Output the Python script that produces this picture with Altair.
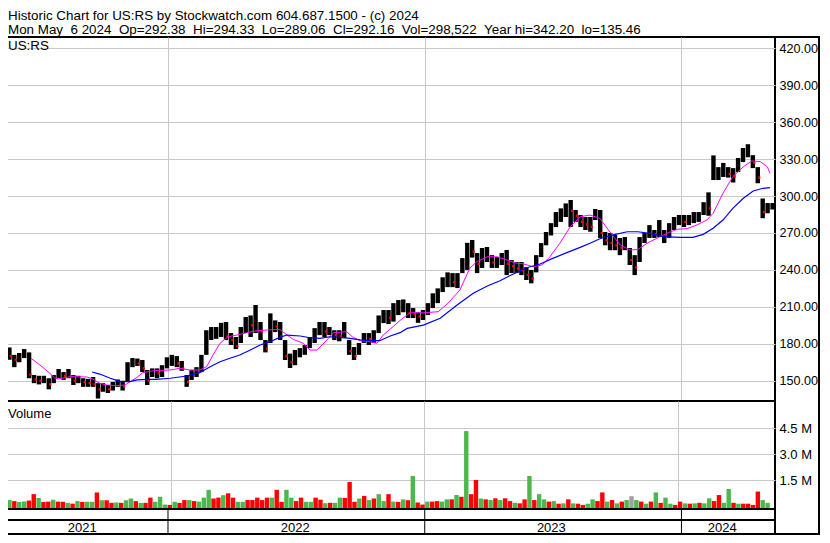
import altair as alt
import pandas as pd

# ---------------- data ----------------
START = "2021-05-10"
END = "2024-05-13"
FIRST_BAR = "2021-05-13 12:00"   # weekly bars, centred mid-week

HIGH = [181.7, 177, 171, 172.5, 175.7, 173, 154.6, 154, 154, 152,
        154.6, 159.5, 157, 159.5, 154.6, 154, 152, 151.5, 153, 148,
        148, 146.5, 149, 151, 150, 165, 168.4, 168, 166.8, 158.7,
        160, 160, 162.6, 169, 171, 170, 166, 154.6, 158.7, 161,
        171, 191, 193.6, 193.6, 197, 197.7, 188.7, 185.5, 193.6, 201.7,
        203, 211.5, 197.7, 183, 204.7, 199, 197.7, 183, 172, 175,
        176.5, 179, 185.5, 192.7, 197.7, 197.7, 193.6, 191, 191, 197.7,
        183, 177.4, 180.6, 188.7, 188.7, 191, 203, 207.4, 207.4, 213,
        215.5, 216, 213, 209, 205.6, 207.4, 213, 221, 225, 234,
        238, 237.4, 237.4, 249.6, 262, 264.3, 253.7, 257.8, 258.6, 252,
        250.4, 253.7, 256.2, 248, 246.4, 246.4, 242.3, 240, 252, 261.8,
        270.8, 278, 287, 290, 294, 296.8, 288.7, 284.6, 283, 283,
        289.5, 288.7, 270.8, 270, 268.4, 265.9, 266.7, 257.8, 252, 266.7,
        270, 276.4, 272.4, 280.5, 272.4, 278, 283, 284.6, 284.6, 284.6,
        287, 287, 295, 303, 333, 323.5, 326.9, 323.5, 322.7, 330.9,
        339, 342.1, 333.2, 323.5, 298, 294.3, 294.33]
LOW = [172, 167, 161, 165, 168.4, 152, 148, 147, 148, 143,
       148, 152, 150.6, 152, 146.5, 148, 145, 145, 145, 135.5,
       141, 140, 142, 145, 142, 149, 161, 162, 157, 146.5,
       153, 152, 153, 160, 162, 161, 158, 145, 150.6, 153,
       157, 171, 183, 184, 185.5, 183, 179, 175.7, 180.6, 188.7,
       185.5, 188.7, 183, 173, 180.6, 189.5, 183, 166.8, 160.3, 162.6,
       169, 171, 176.5, 180.6, 187, 185.5, 187, 183, 182, 184.6,
       171, 166.8, 171, 180.6, 179, 180.6, 188.7, 196.8, 196, 198,
       203.3, 205.6, 200.9, 200.9, 197, 199.3, 203.3, 209, 213, 222,
       226, 226, 225.3, 237.4, 240, 250, 237.4, 241.6, 246.4, 241.6,
       241.6, 244, 235.8, 237.4, 237.4, 235.8, 231.8, 229.1, 238, 250.4,
       260, 268, 274.8, 279, 283, 274.8, 279, 274.8, 272.4, 271,
       280.5, 266, 260, 256, 256, 252, 256, 244, 235.8, 246.4,
       261.8, 266, 266, 266.7, 261.8, 266, 272.4, 276.4, 274.8, 276.4,
       278, 279, 284.6, 284, 313, 313, 315.5, 315, 311, 319.5,
       327.6, 331.5, 322.7, 310.4, 282, 286, 289.06]
CLOSE = [175, 170, 167, 168, 173, 155, 151, 150, 152, 147,
         151, 156, 154, 155, 150, 151, 149, 148, 147, 143,
         145, 143, 146, 149, 145, 163, 165, 164, 160, 150,
         157, 156, 159, 165, 166, 164, 160, 149, 155, 158,
         168, 186, 188, 190, 193, 186, 183, 178, 190, 197,
         195, 196, 190, 176, 200, 194, 186, 170, 165, 170,
         174, 176, 182, 188, 193, 190, 190, 187, 186, 190,
         174, 170, 176, 185, 184, 186, 199, 203, 201, 210,
         210, 210, 205, 204, 202, 203, 210, 215, 220, 230,
         232, 230, 235, 245, 258, 255, 245, 252, 252, 246,
         247, 248, 245, 243, 241, 240, 236, 233, 248, 258,
         266, 275, 282, 285, 290, 288, 284, 279, 277, 275,
         286, 270, 264, 262, 260, 258, 262, 248, 242, 262,
         266, 272, 269, 272, 268, 273, 278, 280, 279, 280,
         283, 284, 292, 290, 318, 318, 320, 318, 316, 326,
         334, 338, 327, 315, 287, 290, 292.16]
# weekly volume, millions of shares
VOL_M = [0.36, 0.30, 0.25, 0.28, 0.33, 0.70, 0.48, 0.25, 0.27, 0.38,
         0.27, 0.26, 0.20, 0.15, 0.30, 0.25, 0.26, 0.26, 0.80, 0.35,
         0.35, 0.20, 0.22, 0.20, 0.35, 0.45, 0.30, 0.20, 0.20, 0.50,
         0.26, 0.55, 0.10, 0.08, 0.26, 0.20, 0.36, 0.36, 0.30, 0.27,
         0.50, 0.95, 0.45, 0.50, 0.64, 0.75, 0.50, 0.26, 0.26, 0.36,
         0.36, 0.50, 0.36, 0.50, 0.50, 0.95, 0.26, 0.95, 0.50, 0.30,
         0.50, 0.26, 0.26, 0.50, 0.38, 0.18, 0.20, 0.20, 0.50, 0.48,
         1.40, 0.26, 0.45, 0.60, 0.36, 0.45, 0.70, 0.30, 0.70, 0.27,
         0.25, 0.40, 0.35, 1.75, 0.22, 0.10, 0.27, 0.27, 0.30, 0.27,
         0.40, 0.40, 0.65, 0.55, 4.34, 0.70, 1.52, 0.45, 0.40, 0.36,
         0.46, 0.36, 0.46, 0.30, 0.20, 0.17, 0.40, 1.75, 0.36, 0.70,
         0.40, 0.27, 0.30, 0.15, 0.17, 0.40, 0.17, 0.15, 0.08, 0.15,
         0.40, 0.30, 0.80, 0.27, 0.36, 0.17, 0.27, 0.36, 0.58, 0.36,
         0.27, 0.15, 0.27, 0.80, 0.20, 0.50, 0.15, 0.08, 0.27, 0.17,
         0.15, 0.17, 0.20, 0.17, 0.46, 0.30, 0.65, 0.20, 1.00, 0.20,
         0.15, 0.15, 0.15, 0.08, 0.85, 0.36, 0.20]
# g = up, r = down, n = unchanged
VOL_DIR = ("grggrrgrrg" "rrgrgrggrg" "rrgrggrgrr" "gggrgrrgrg" "ggrrgrrggr"
           "rrrrgrrggr" "rggrrgrggr" "rrgrgrggrg" "rgrgrrgrrg" "grgrgrrgrg"
           "rgrrgrrgrg" "grgrgrgrrg" "grrgrgrgng" "rgrgrggrrg" "rgrggrrggr"
           "grrrrgg")

# moving averages: days after START, value
MA30_DAYS = [41, 54, 68, 75, 80, 97, 121, 129, 139, 149, 163, 175, 182, 192, 200,
             215, 239, 253, 267, 281, 291, 300, 310, 321, 334, 348, 363, 377, 395,
             402, 414, 428, 438, 448, 462, 471, 490, 498, 509, 520, 533, 542, 556,
             566, 580, 599, 620, 634, 651, 665, 675, 690, 704, 718, 732, 741, 755,
             768, 779, 793, 808, 822, 836, 850, 864, 879, 893, 904, 917, 931, 945,
             960, 974, 988, 1002, 1011, 1025, 1039, 1054, 1066, 1078, 1088, 1092]
MA30 = [168.2, 162.8, 156.0, 152.2, 151.3, 153.3, 153.0, 151.4, 147.9, 146.5, 146.0,
        146.5, 149.2, 152.7, 156.5, 158.1, 158.7, 160.0, 158.7, 158.7, 161.4, 170.9,
        180.4, 185.7, 187.1, 189.0, 190.6, 191.2, 191.7, 188.5, 183.6, 180.4, 174.9,
        174.9, 183.1, 189.0, 189.8, 185.7, 182.5, 182.0, 180.4, 187.1, 193.9, 199.0,
        205.2, 205.2, 206.0, 212.9, 223.7, 241.3, 246.7, 250.7, 250.7, 248.0, 245.4,
        245.0, 242.6, 244.0, 250.7, 261.6, 275.1, 283.2, 284.6, 281.9, 271.0, 260.2,
        256.2, 256.5, 261.6, 265.7, 269.7, 273.0, 273.5, 276.5, 280.5, 286.0, 302.2,
        315.7, 323.8, 328.5, 328.0, 323.8, 318.5]
MA90_DAYS = [128, 139, 154, 168, 182, 192, 206, 220, 239, 263, 281, 296, 310, 324,
             338, 353, 367, 381, 395, 405, 424, 438, 452, 466, 481, 495, 509, 523,
             537, 552, 566, 576, 599, 623, 647, 670, 690, 708, 727, 746, 765, 783,
             803, 822, 836, 850, 869, 889, 904, 921, 940, 964, 982, 997, 1011, 1025,
             1039, 1054, 1068, 1082, 1092]
MA90 = [157.1, 155.4, 152.0, 149.2, 149.2, 150.6, 151.1, 151.1, 152.0, 153.8, 156.5,
        161.4, 165.4, 168.2, 170.9, 174.9, 179.0, 181.7, 185.2, 187.1, 186.3, 184.9,
        184.4, 185.7, 185.2, 184.4, 183.1, 182.5, 182.5, 186.3, 189.0, 192.5, 195.2,
        200.7, 211.5, 221.0, 226.9, 231.2, 236.7, 241.8, 244.8, 249.4, 254.0, 258.3,
        261.6, 265.3, 268.4, 271.0, 271.0, 269.7, 267.0, 266.5, 266.5, 268.9, 273.8,
        280.5, 290.0, 298.2, 304.1, 306.3, 306.8]

PRICE_TICKS = [150, 165, 180, 195, 210, 225, 240, 255, 270, 285, 300, 315,
               330, 345, 360, 375, 390, 405, 420]
VOL_TICKS = [1.5, 3.0, 4.5]
YEAR_LINES = ["2022-01-01", "2023-01-01", "2024-01-01"]
YEAR_LABELS = ["2021", "2022", "2023", "2024"]
YEAR_LABEL_DATES = ["2021-09-01", "2022-07-01", "2023-06-30", "2024-02-28"]
SYMBOL = "US:RS"
VOLUME_LABEL = "Volume"
HEADER1 = "Historic Chart for US:RS by Stockwatch.com 604.687.1500 - (c) 2024"
HEADER2 = ("Mon May  6 2024  Op=292.38  Hi=294.33  Lo=289.06  Cl=292.16  "
           "Vol=298,522  Year hi=342.20  lo=135.46")

# ---------------- layout / style ----------------
FONT = "Liberation Sans"
GRID = "#c8c8c8"
GREEN = "#4cb84c"
RED = "#ff0000"
GREY = "#a0a0a0"
W = 773
H_HDR = 29
H_PRICE = 364
H_VOL = 108
H_BAND = 11
H_YEAR = 14
RIGHT_EDGE = 817
PMIN, PMAX = 133.51, 429.2
VMIN, VMAX = -0.156, 6.075


def dt(s):
    t = pd.Timestamp(s)
    return alt.DateTime(year=t.year, month=t.month, date=t.day, hours=t.hour)


dates = pd.date_range(FIRST_BAR, periods=len(HIGH), freq="7D")
bars = pd.DataFrame({"date": dates, "high": HIGH, "low": LOW, "close": CLOSE,
                     "vol": VOL_M, "dir": list(VOL_DIR)})
bars["down"] = [i > 0 and CLOSE[i] < CLOSE[i - 1] for i in range(len(CLOSE))]

start_ts = pd.Timestamp(START)
ma30_df = pd.DataFrame({"date": start_ts + pd.to_timedelta(MA30_DAYS, unit="D"), "val": MA30})
ma90_df = pd.DataFrame({"date": start_ts + pd.to_timedelta(MA90_DAYS, unit="D"), "val": MA90})
yl_df = pd.DataFrame({"date": pd.to_datetime(YEAR_LINES)})
ylab_df = pd.DataFrame({"date": pd.to_datetime(YEAR_LABEL_DATES), "label": YEAR_LABELS})
one = pd.DataFrame({"k": [0]})

xs = alt.Scale(domain=[dt(START), dt(END)])
x_grid_axis = alt.Axis(values=[dt(d) for d in YEAR_LINES], grid=True, gridColor=GRID,
                       labels=False, ticks=False, domain=False, title=None)
ps = alt.Scale(domain=[PMIN, PMAX], nice=False, zero=False)
p_axis = alt.Axis(orient="right", values=PRICE_TICKS, format=".2f", grid=True,
                  gridColor=GRID, ticks=False, domain=False, labelPadding=4,
                  labelFont=FONT, labelFontSize=12.6, labelColor="black",
                  title=None, labelOverlap=False)
vs = alt.Scale(domain=[VMIN, VMAX], nice=False, zero=False)
v_axis = alt.Axis(orient="right", values=VOL_TICKS,
                  labelExpr="format(datum.value, '.1f') + ' M'", grid=True,
                  gridColor=GRID, ticks=False, domain=False, labelPadding=4,
                  labelFont=FONT, labelFontSize=13, labelColor="black",
                  title=None, labelOverlap=False)


def right_border(h):
    return alt.Chart(one).mark_rule(color="black", strokeWidth=2).encode(
        x=alt.value(RIGHT_EDGE), y=alt.value(0), y2=alt.value(h))


def text_at(txt, x, y, size):
    return alt.Chart(pd.DataFrame({"t": [txt]})).mark_text(
        align="left", baseline="alphabetic", font=FONT, fontSize=size, color="black"
    ).encode(text="t:N", x=alt.value(x), y=alt.value(y))


# header
header = alt.layer(
    text_at(HEADER1, 6, 11.5, 13.4),
    text_at(HEADER2.replace("  ", " \u00a0"), 6, 25.5, 13.4),
).properties(width=W, height=H_HDR, view=alt.ViewBackground(strokeWidth=0))

# price panel
hl = alt.Chart(bars).mark_rule(color="black", strokeWidth=4.4).encode(
    x=alt.X("date:T", scale=xs, axis=x_grid_axis),
    y=alt.Y("low:Q", scale=ps, axis=p_axis),
    y2="high:Q")
red_close = alt.Chart(bars).transform_filter("datum.down").mark_square(
    size=5, color=RED, opacity=1, xOffset=1.5).encode(
    x=alt.X("date:T", scale=xs), y=alt.Y("close:Q", scale=ps))
ma30 = alt.Chart(ma30_df).mark_line(color="#ff00ff", strokeWidth=1).encode(
    x=alt.X("date:T", scale=xs), y=alt.Y("val:Q", scale=ps))
ma90 = alt.Chart(ma90_df).mark_line(color="#0000ff", strokeWidth=1.2).encode(
    x=alt.X("date:T", scale=xs), y=alt.Y("val:Q", scale=ps))
top_line = alt.Chart(one).mark_rule(color="black", strokeWidth=2).encode(
    x=alt.value(W), x2=alt.value(RIGHT_EDGE + 1), y=alt.value(0))
price = alt.layer(hl, red_close, ma30, ma90, text_at(SYMBOL, 6, 13, 13.4),
                  top_line, right_border(H_PRICE)).properties(width=W, height=H_PRICE)

# volume panel
vb = alt.Chart(bars).mark_bar(size=4.4).encode(
    x=alt.X("date:T", scale=xs, axis=x_grid_axis),
    y=alt.Y("vol:Q", scale=vs, axis=v_axis),
    y2=alt.datum(VMIN),
    color=alt.Color("dir:N", scale=alt.Scale(domain=["g", "r", "n"],
                                             range=[GREEN, RED, GREY]), legend=None))
volume = alt.layer(vb, text_at(VOLUME_LABEL, 6, 17, 13),
                   right_border(H_VOL)).properties(width=W, height=H_VOL)

# band + year row
year_rules = alt.Chart(yl_df).mark_rule(color="black", strokeWidth=1).encode(
    x=alt.X("date:T", scale=xs, axis=None))
band = alt.layer(year_rules, right_border(H_BAND)).properties(width=W, height=H_BAND)
year_text = alt.Chart(ylab_df).mark_text(font=FONT, fontSize=13, baseline="middle",
                                         color="black").encode(
    x=alt.X("date:T", scale=xs, axis=None), text="label:N", y=alt.value(H_YEAR / 2 + 0.5))
bottom_line = alt.Chart(one).mark_rule(color="black", strokeWidth=2).encode(
    x=alt.value(W), x2=alt.value(RIGHT_EDGE + 1), y=alt.value(H_YEAR))
years = alt.layer(year_rules, year_text, bottom_line,
                  right_border(H_YEAR)).properties(width=W, height=H_YEAR)

chart = alt.vconcat(header, price, volume, band, years, spacing=0, bounds="flush").properties(
    padding={"left": -7, "top": 0, "right": 0, "bottom": 0}
).configure_view(stroke="black", strokeWidth=2)

chart.save("out.html", embed_options={"renderer": "svg", "actions": False})
